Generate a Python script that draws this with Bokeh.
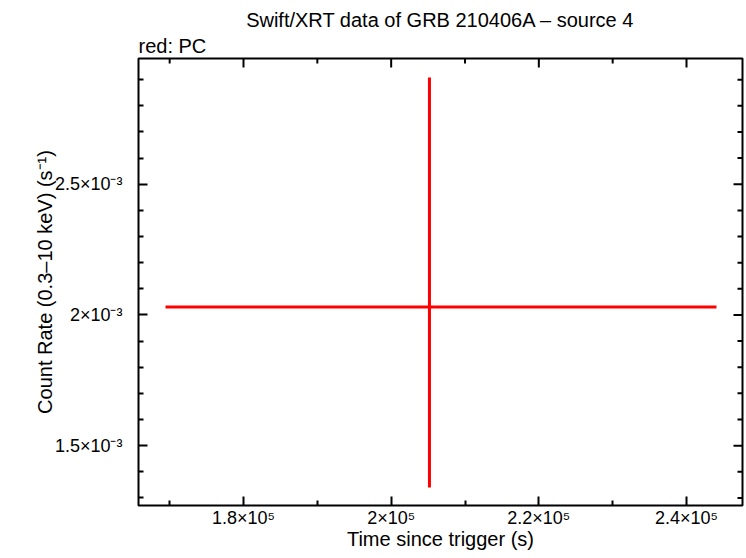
from bokeh.plotting import figure
from bokeh.models import LinearAxis, FixedTicker, Range1d, Title, ColumnDataSource
from bokeh.embed import file_html
from bokeh.resources import INLINE

# ---- data ----
t_mid = [205186.0]
t_lo = [169437.0]
t_hi = [244062.0]
rate = [2.0305e-3]
rate_lo = [1.340e-3]
rate_hi = [2.908e-3]

x_ticks = [180000, 200000, 220000, 240000]
x_tick_labels = ["1.8×10⁵", "2×10⁵", "2.2×10⁵", "2.4×10⁵"]
x_minor = [170000, 190000, 210000, 230000]
y_ticks = [1.5e-3, 2.0e-3, 2.5e-3]
y_tick_labels = ["1.5×10⁻³", "2×10⁻³", "2.5×10⁻³"]
y_minor = [1.3e-3, 1.4e-3, 1.6e-3, 1.7e-3, 1.8e-3, 1.9e-3,
           2.1e-3, 2.2e-3, 2.3e-3, 2.4e-3, 2.6e-3, 2.7e-3, 2.8e-3, 2.9e-3]

x_range = (165779, 247584)
y_range = (1.271e-3, 2.981e-3)

FONT = "Liberation Sans"
W, H = 744, 557
BL, BR, BT, BB = 138, 2, 58, 52
FW, FH = W - BL - BR, H - BT - BB
MAJ, MIN = 9, 5

p = figure(width=W, height=H, output_backend="svg", toolbar_location=None,
           x_range=Range1d(*x_range), y_range=Range1d(*y_range),
           x_axis_type=None, y_axis_type=None, title=None,
           min_border_left=BL, min_border_right=BR, min_border_top=BT,
           min_border_bottom=BB)
p.grid.visible = False
p.outline_line_color = "black"
p.outline_line_width = 2
p.background_fill_color = "white"
p.border_fill_color = "white"

xt = FixedTicker(ticks=x_ticks, minor_ticks=x_minor)
yt = FixedTicker(ticks=y_ticks, minor_ticks=y_minor)


def style(ax):
    ax.axis_line_color = None
    ax.major_tick_in = MAJ
    ax.major_tick_out = 0
    ax.minor_tick_in = MIN
    ax.minor_tick_out = 0
    ax.major_tick_line_color = "black"
    ax.minor_tick_line_color = "black"
    ax.major_tick_line_width = 2
    ax.minor_tick_line_width = 2
    ax.major_label_text_font = FONT
    ax.major_label_text_font_size = "18px"
    ax.major_label_text_color = "black"
    ax.axis_label_text_font = FONT
    ax.axis_label_text_font_size = "20px"
    ax.axis_label_text_font_style = "normal"
    ax.axis_label_text_color = "black"


xb = LinearAxis(ticker=xt, axis_label="Time since trigger (s)")
xb.major_label_overrides = {v: s for v, s in zip(x_ticks, x_tick_labels)}
style(xb)
xb.major_label_standoff = 2
xb.axis_label_standoff = -3
p.add_layout(xb, "below")

yl = LinearAxis(ticker=yt, axis_label="Count Rate (0.3–10 keV) (s⁻¹)")
yl.major_label_overrides = {v: s for v, s in zip(y_ticks, y_tick_labels)}
style(yl)
yl.major_label_standoff = 16
yl.axis_label_standoff = -4
p.add_layout(yl, "left")

# ticks on the top and right edges of the frame (mirrors of the axis ticks)
sx = (x_range[1] - x_range[0]) / FW
sy = (y_range[1] - y_range[0]) / FH
top_x = x_ticks + x_minor
top_len = [MAJ * sy] * len(x_ticks) + [MIN * sy] * len(x_minor)
p.segment(x0=top_x, x1=top_x, y0=[y_range[1]] * len(top_x),
          y1=[y_range[1] - d for d in top_len], line_color="black", line_width=2)
right_y = y_ticks + y_minor
right_len = [MAJ * sx] * len(y_ticks) + [MIN * sx] * len(y_minor)
p.segment(x0=[x_range[1]] * len(right_y), x1=[x_range[1] - d for d in right_len],
          y0=right_y, y1=right_y, line_color="black", line_width=2)

p.add_layout(Title(text="red: PC", align="left", text_font=FONT,
                   text_font_size="20px", text_font_style="normal",
                   text_color="black", standoff=3), "above")
p.add_layout(Title(text="Swift/XRT data of GRB 210406A – source 4", align="center",
                   text_font=FONT, text_font_size="20px", text_font_style="normal",
                   text_color="black", standoff=1), "above")

src = ColumnDataSource(dict(t=t_mid, tlo=t_lo, thi=t_hi, r=rate, rlo=rate_lo, rhi=rate_hi))
p.segment(x0="tlo", x1="thi", y0="r", y1="r", source=src, line_color="red", line_width=3)
p.segment(x0="t", x1="t", y0="rlo", y1="rhi", source=src, line_color="red", line_width=3)

open("out.html", "w").write(file_html(p, INLINE))
